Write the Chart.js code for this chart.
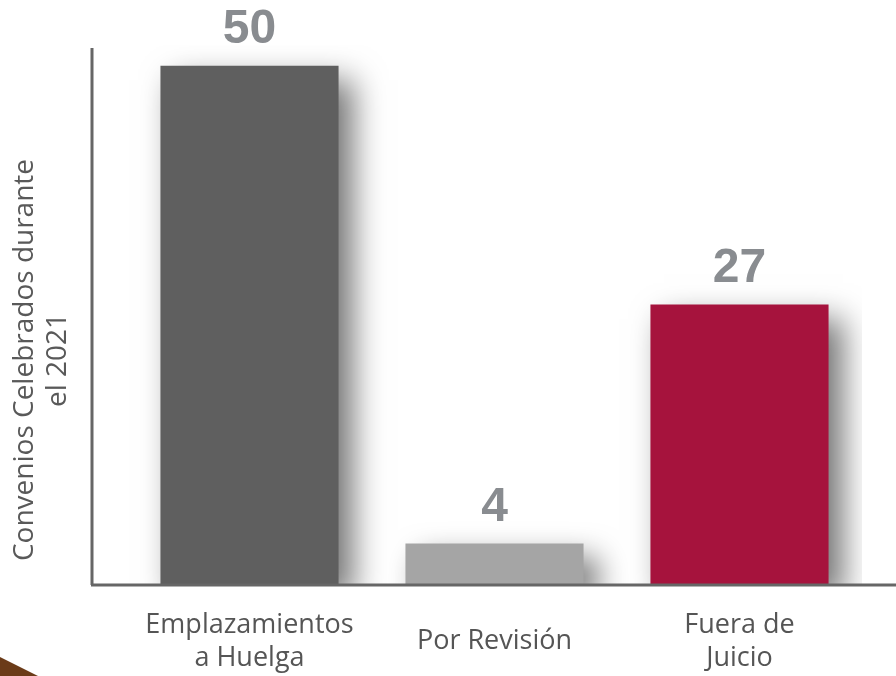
<!DOCTYPE html>
<html>
<head>
<meta charset="utf-8">
<script src="https://cdn.jsdelivr.net/npm/chart.js@4"></script>
<style>
  html, body { margin: 0; padding: 0; background: #fff; }
  #wrap { width: 896px; height: 676px; position: relative; }
</style>
</head>
<body>
<div id="wrap"><canvas id="chart"></canvas></div>
<script>
const categories = [['Emplazamientos', 'a Huelga'], 'Por Revisión', ['Fuera de', 'Juicio']];
const values = [50, 4, 27];
const barColors = ['#5f5f5f', '#a5a5a5', '#a6133d'];
const yTitle = ['Convenios Celebrados durante', 'el 2021'];

// shadow under the bars + value labels on top
const barDecor = {
    id: 'barDecor',
    beforeDatasetsDraw(chart) {
        const ctx = chart.ctx;
        ctx.save();
        ctx.shadowColor = 'rgba(0,0,0,0.55)';
        ctx.shadowBlur = 30;
        ctx.shadowOffsetX = 14;
        ctx.shadowOffsetY = 14;
    },
    afterDatasetsDraw(chart) {
        const ctx = chart.ctx;
        ctx.restore();
        const meta = chart.getDatasetMeta(0);
        ctx.save();
        ctx.fillStyle = '#898c90';
        ctx.font = 'bold 48px "Liberation Sans", Arial, sans-serif';
        ctx.textAlign = 'center';
        ctx.textBaseline = 'bottom';
        meta.data.forEach((bar, i) => {
            ctx.fillText(String(values[i]), bar.x, bar.y - 12);
        });
        ctx.restore();
    },
    afterDraw(chart) {
        const ctx = chart.ctx;
        const area = chart.chartArea;
        ctx.save();
        // axis lines
        ctx.strokeStyle = '#666';
        ctx.lineWidth = 3;
        ctx.beginPath();
        ctx.moveTo(92, 48);
        ctx.lineTo(92, area.bottom);
        ctx.moveTo(91, area.bottom);
        ctx.lineTo(chart.width, area.bottom);
        ctx.stroke();
        // y axis title
        ctx.fillStyle = '#595959';
        ctx.font = '28px "Open Sans", sans-serif';
        ctx.textAlign = 'center';
        ctx.textBaseline = 'middle';
        ctx.translate(25, 360);
        ctx.rotate(-Math.PI / 2);
        yTitle.forEach((line, i) => ctx.fillText(line, 0, i * 33));
        ctx.restore();
        // corner decoration
        ctx.save();
        ctx.fillStyle = '#6b3b18';
        ctx.beginPath();
        ctx.moveTo(0, 657);
        ctx.lineTo(38, 676);
        ctx.lineTo(0, 676);
        ctx.closePath();
        ctx.fill();
        ctx.restore();
    }
};

new Chart(document.getElementById('chart'), {
    type: 'bar',
    data: {
        labels: categories,
        datasets: [{
            data: values,
            backgroundColor: barColors,
            borderWidth: 0,
            categoryPercentage: 1,
            barPercentage: 0.727
        }]
    },
    options: {
        responsive: true,
        maintainAspectRatio: false,
        animation: false,
        layout: { padding: { left: 127, right: 34, top: 45, bottom: 0 } },
        plugins: {
            legend: { display: false },
            tooltip: { enabled: false }
        },
        scales: {
            x: {
                grid: { display: false, drawTicks: false },
                border: { display: false },
                afterFit(scale) { scale.height = 91; },
                ticks: {
                    color: '#555',
                    font: { family: '"Open Sans", sans-serif', size: 27, lineHeight: 1.222 },
                    padding: 40,
                    maxRotation: 0,
                    autoSkip: false,
                    crossAlign: 'center'
                }
            },
            y: {
                display: false,
                min: 0,
                max: 52
            }
        }
    },
    plugins: [barDecor]
});
</script>
</body>
</html>
